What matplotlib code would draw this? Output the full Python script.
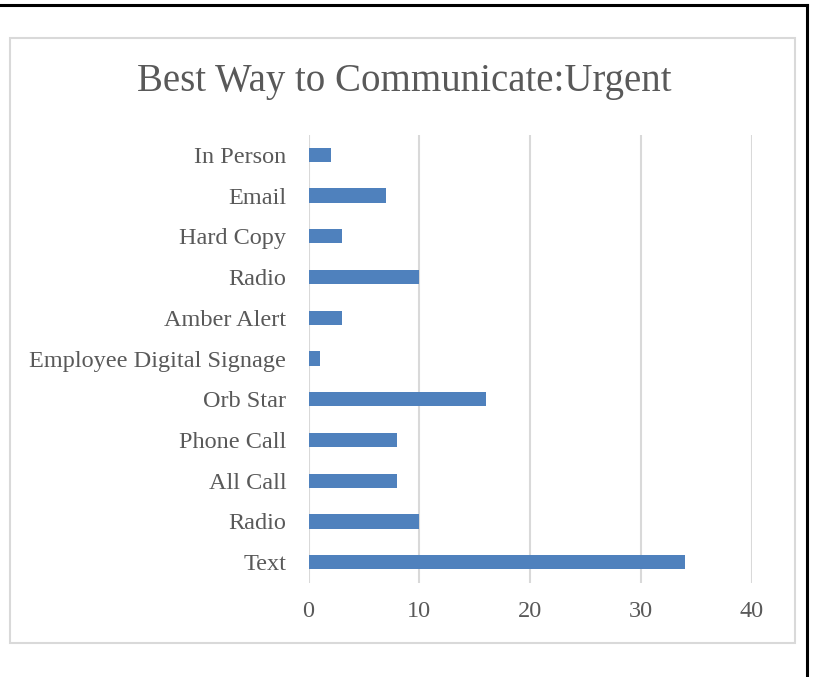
import matplotlib.pyplot as plt
from matplotlib.patches import Rectangle
from matplotlib.lines import Line2D

# survey answers, listed bottom to top as they appear on the chart
categories = ["Text", "Radio", "All Call", "Phone Call", "Orb Star",
              "Employee Digital Signage", "Amber Alert", "Radio",
              "Hard Copy", "Email", "In Person"]
votes = [34, 10, 8, 8, 16, 1, 3, 10, 3, 7, 2]
x_ticks = [0, 10, 20, 30, 40]

W, H = 814, 677
fig = plt.figure(figsize=(W / 100, H / 100), dpi=100)
plt.rcParams['font.family'] = ['Liberation Serif', 'DejaVu Serif']
text_col = "#595959"

# outer black frame (top and right edges)
fig.add_artist(Line2D([0, 807 / W], [1 - 5 / H, 1 - 5 / H], color="black", lw=2.2))
fig.add_artist(Line2D([807 / W, 807 / W], [0, 1 - 5 / H], color="black", lw=2.2))

# light grey chart border
fig.add_artist(Rectangle((10 / W, 1 - 643 / H), 785 / W, 605 / H, fill=False,
                         edgecolor="#d9d9d9", lw=1.5))

ax = fig.add_axes([308.5 / W, 1 - 582.5 / H, (752 - 308.5) / W, (582.5 - 134.5) / H])
pos = range(len(categories))
ax.barh(pos, votes, height=0.35, color="#4f81bd", zorder=3)
ax.set_xlim(0, 40)
ax.set_ylim(-0.5, len(categories) - 0.5)
ax.set_yticks(list(pos))
ax.set_yticklabels(categories, fontsize=17.5, color=text_col)
ax.set_xticks(x_ticks)
ax.set_xticklabels([str(t) for t in x_ticks], fontsize=17.5, color=text_col)
ax.tick_params(axis="both", length=0)
ax.tick_params(axis="y", pad=16)
ax.tick_params(axis="x", pad=13)
ax.grid(axis="x", color="#d9d9d9", lw=1.5, zorder=0)
for s in ax.spines.values():
    s.set_visible(False)

fig.text(404 / W, 1 - 82 / H, "Best Way to Communicate:Urgent", fontsize=28,
         color=text_col, ha="center", va="center")

fig.savefig("out.png", dpi=100)
